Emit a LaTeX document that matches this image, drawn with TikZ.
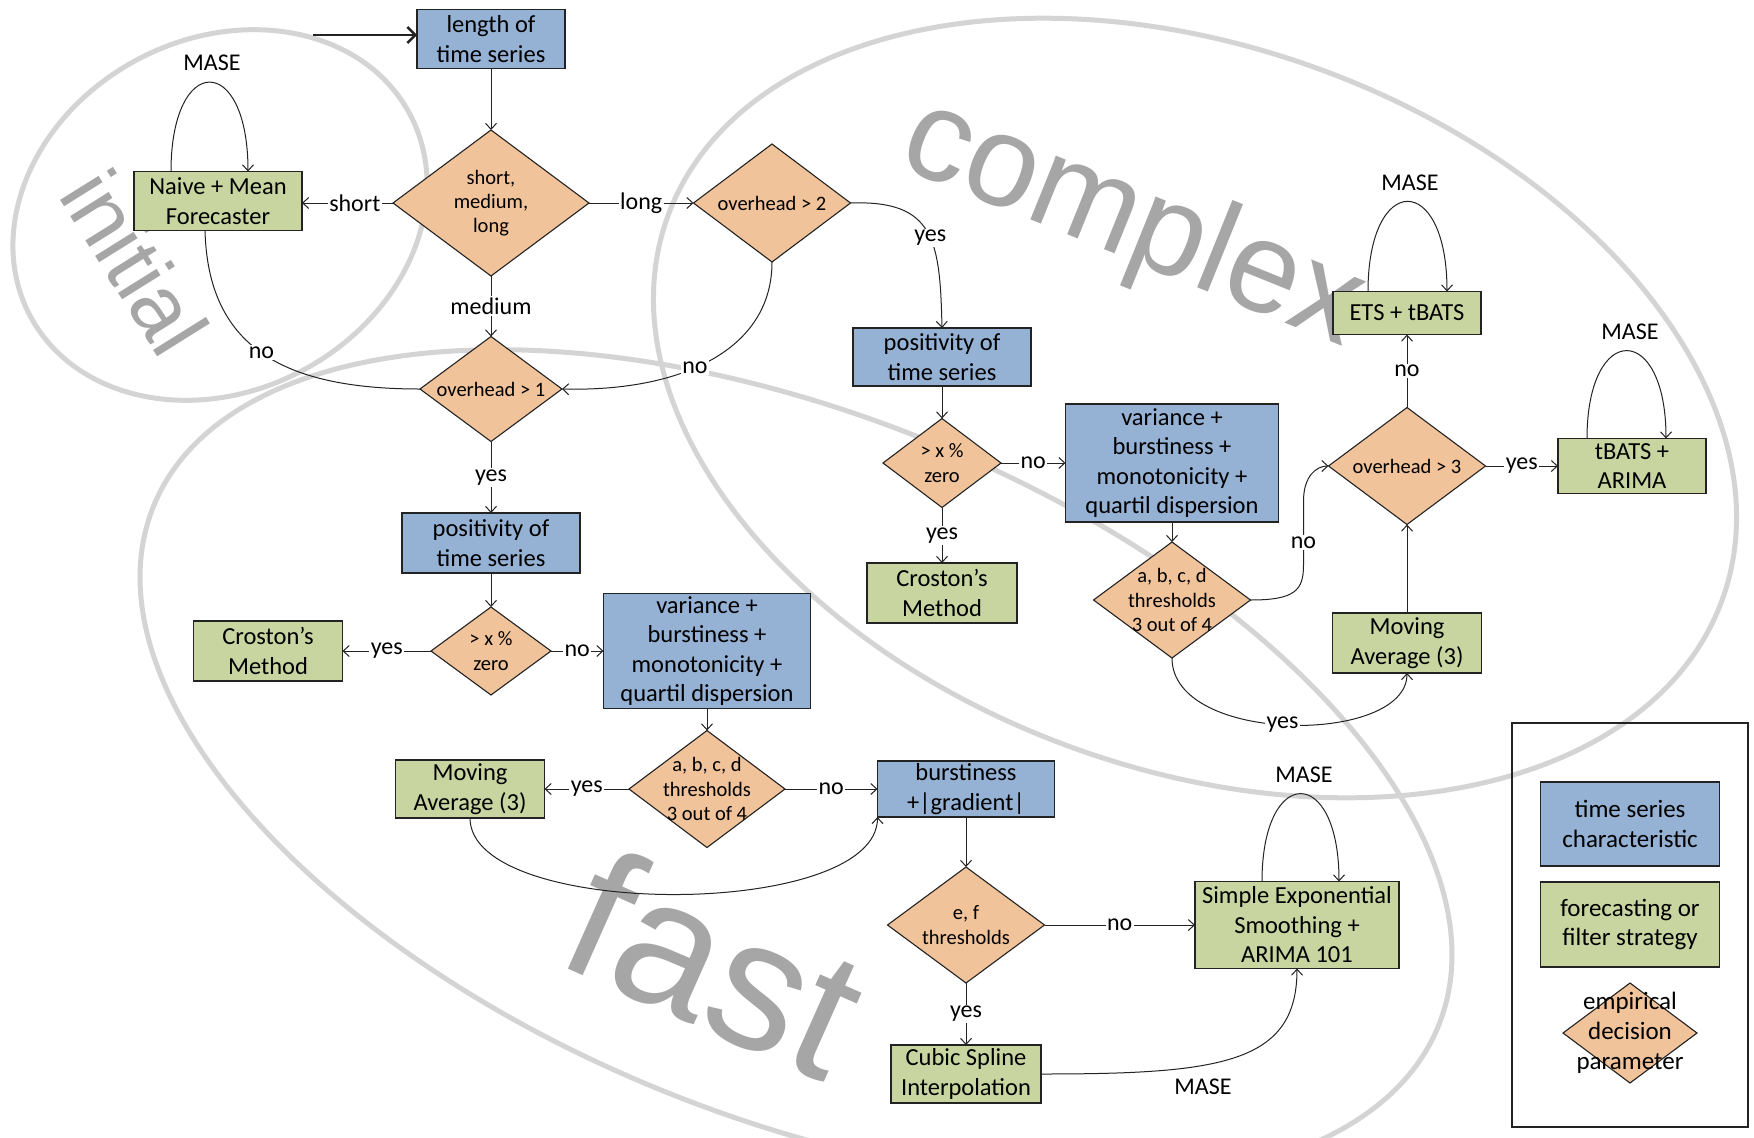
\documentclass[tikz,border=0pt]{standalone}
\usepackage{fontspec}
\setmainfont{Carlito}
\newfontfamily\markfont{Liberation Sans}
\usetikzlibrary{shapes.geometric,arrows.meta,calc}

\definecolor{tsblue}{RGB}{149,177,212}
\definecolor{fcgreen}{RGB}{200,213,160}
\definecolor{dporange}{RGB}{241,195,155}
\definecolor{ringgray}{RGB}{212,212,212}
\definecolor{markgray}{RGB}{166,166,166}
\definecolor{ink}{RGB}{35,35,35}

\tikzset{
  every node/.style={inner sep=0pt, outer sep=0pt},
  boxbase/.style={draw=ink, line width=1.3pt, align=center,
    font=\fontsize{24.5}{29.5}\selectfont},
  tsbox/.style={boxbase, fill=tsblue},
  fcbox/.style={boxbase, fill=fcgreen},
  dp/.style={diamond, draw=ink, line width=1.1pt, fill=dporange},
  dptext/.style={align=center, font=\fontsize{20.5}{24.2}\selectfont},
  lbl/.style={fill=white, inner sep=1.5pt, font=\fontsize{24}{28}\selectfont},
  looplbl/.style={font=\fontsize{24}{28}\selectfont},
  link/.style={draw=ink, line width=1pt},
  conn/.style={link, -{Straight Barb[length=6pt,width=11pt]}},
  ring/.style={draw=ringgray, line width=5pt},
  wmark/.style={text=markgray, font=\markfont\fontsize{#1}{#1}\selectfont},
}

\begin{document}
\begin{tikzpicture}[x=1pt,y=-1pt]
\clip (0,0) rectangle (1754,1138);
\fill[white] (0,0) rectangle (1754,1138);

% region outlines
\draw[ring, rotate around={28:(220,215)}] (220,215) ellipse [x radius=215, y radius=176];
\draw[ring, rotate around={-20:(1195,408)}] (1195,408) ellipse [x radius=561, y radius=361];
\draw[ring, rotate around={-22:(796,766)}] (796,766) ellipse [x radius=693, y radius=351];

% region names
\node[wmark=86, rotate=-58] (nameInit) at (135,262) {initial};
\node[wmark=130, rotate=-22] (nameComplex) at (1132,225) {complex};
\node[wmark=184, rotate=-24] (nameFast) at (716,963) {fast};

% entry and length decision
\node[tsbox, minimum width=148pt, minimum height=59pt] (len) at (491,39) {length of\\time series};
\node[dp, minimum width=196pt, minimum height=146pt] (d1) at (491,203) {};
\node[dptext] (d1t) at (d1) {short,\\medium,\\long};
\node[fcbox, minimum width=168pt, minimum height=59pt] (naive) at (218,201) {Naive + Mean\\Forecaster};
\node[dp, minimum width=142pt, minimum height=105pt] (oh1) at (491,389) {};
\node[dptext] (oh1t) at (oh1) {overhead > 1};
\node[dp, minimum width=157pt, minimum height=118pt] (oh2) at (772,203) {};
\node[dptext] (oh2t) at (oh2) {overhead > 2};

% complex branch
\node[tsbox, minimum width=178pt, minimum height=58pt] (posC) at (942,357) {positivity of\\time series};
\node[dp, minimum width=118pt, minimum height=89pt] (zeroC) at (942,463) {};
\node[dptext] (zeroCt) at (zeroC) {> x \%\\zero};
\node[tsbox, minimum width=213pt, minimum height=118pt] (varC) at (1172,463) {variance +\\burstiness +\\monotonicity +\\quartil dispersion};
\node[fcbox, minimum width=150pt, minimum height=60pt] (croC) at (942,593) {Croston’s\\Method};
\node[dp, minimum width=157pt, minimum height=116pt] (abcdC) at (1172,600) {};
\node[dptext] (abcdCt) at (abcdC) {a, b, c, d\\thresholds\\3 out of 4};
\node[dp, minimum width=157pt, minimum height=117pt] (oh3) at (1407,466) {};
\node[dptext] (oh3t) at (oh3) {overhead > 3};
\node[fcbox, minimum width=149pt, minimum height=60pt] (maC) at (1407,643) {Moving\\Average (3)};
\node[fcbox, minimum width=148pt, minimum height=43pt] (ets) at (1407,313) {ETS + tBATS};
\node[fcbox, minimum width=148pt, minimum height=55pt] (tbats) at (1632,466) {tBATS +\\ARIMA};

% fast branch
\node[tsbox, minimum width=178pt, minimum height=60pt] (posF) at (491,543) {positivity of\\time series};
\node[dp, minimum width=120pt, minimum height=88pt] (zeroF) at (491,651) {};
\node[dptext] (zeroFt) at (zeroF) {> x \%\\zero};
\node[fcbox, minimum width=149pt, minimum height=60pt] (croF) at (268,651) {Croston’s\\Method};
\node[tsbox, minimum width=207pt, minimum height=115pt] (varF) at (707,651) {variance +\\burstiness +\\monotonicity +\\quartil dispersion};
\node[dp, minimum width=156pt, minimum height=117pt] (abcdF) at (707,789) {};
\node[dptext] (abcdFt) at (abcdF) {a, b, c, d\\thresholds\\3 out of 4};
\node[fcbox, minimum width=149pt, minimum height=58pt] (maF) at (470,789) {Moving\\Average (3)};
\node[tsbox, minimum width=177pt, minimum height=56pt] (burst) at (966,789) {burstiness\\+|gradient|};
\node[dp, minimum width=157pt, minimum height=116pt] (ef) at (966,925) {};
\node[dptext] (eft) at (ef) {e, f\\thresholds};
\node[fcbox, minimum width=150pt, minimum height=58pt] (cubic) at (966,1074) {Cubic Spline\\Interpolation};
\node[fcbox, minimum width=204pt, minimum height=87pt] (ses) at (1297,925) {Simple Exponential\\Smoothing +\\ARIMA 101};

% legend
\node[draw=ink, line width=1.3pt, minimum width=236pt, minimum height=404pt] (legend) at (1630,925) {};
\node[tsbox, minimum width=179pt, minimum height=84pt, font=\fontsize{25}{29.5}\selectfont] (keyTs) at (1630,824) {time series\\characteristic};
\node[fcbox, minimum width=179pt, minimum height=85pt, font=\fontsize{25}{29.5}\selectfont] (keyFc) at (1630,924.5) {forecasting or\\filter strategy};
\node[dp, minimum width=134pt, minimum height=100pt] (keyDp) at (1630,1033) {};
\node[align=center, font=\fontsize{25}{30}\selectfont] (keyDpt) at (keyDp) {empirical\\decision\\parameter};

% connectors: start
\coordinate (start) at (313,35);
\draw[link, line width=2.4pt, -{Straight Barb[length=8pt,width=16pt]}] (start) -- (start -| len.west);
\draw[conn] (len.south) -- (d1.north);
\draw[conn] (d1.west) -- node[lbl, pos=0.42] (lShort) {short} (d1.west -| naive.east);
\draw[conn] (d1.south) -- node[lbl] (lMedium) {medium} (oh1.north);
\draw[conn] (d1.east) -- node[lbl] (lLong) {long} (d1.east -| oh2.west);
\draw[conn] (oh2.east) .. controls +(84,-3) and +(-2,-88) .. node[lbl, pos=0.55] (lYesA) {yes} (posC.north);
\draw[conn] (oh2.south) .. controls +(0,88) and +(119,3) .. node[lbl, pos=0.57] (lNoA) {no} (oh1.east);
\draw[link] (oh1.west) .. controls +(-139,0) and +(3,115) .. node[lbl] (lNoB) {no} ([xshift=-13pt]naive.south);

% connectors: fast branch
\draw[conn] (oh1.south) -- node[lbl] (lYesB) {yes} (posF.north);
\draw[conn] (posF.south) -- (zeroF.north);
\draw[conn] (zeroF.west) -- node[lbl] (lYesC) {yes} (zeroF.west -| croF.east);
\draw[conn] (zeroF.east) -- node[lbl] (lNoC) {no} (zeroF.east -| varF.west);
\draw[conn] (varF.south) -- (abcdF.north);
\draw[conn] (abcdF.west) -- node[lbl] (lYesD) {yes} (abcdF.west -| maF.east);
\draw[conn] (abcdF.east) -- node[lbl] (lNoD) {no} (abcdF.east -| burst.west);
\draw[conn] (maF.south) .. controls +(0,102) and +(0,103) .. (burst.south west);
\draw[conn] (burst.south) -- (ef.north);
\draw[conn] (ef.east) -- node[lbl] (lNoE) {no} (ef.east -| ses.west);
\draw[conn] (ef.south) -- node[lbl] (lYesE) {yes} (cubic.north);
\draw[conn] (cubic.east) .. controls +(180,0) and +(0,95) .. (ses.south);
\node[looplbl] (lMaseE) at (1203,1087) {MASE};

% connectors: complex branch
\draw[conn] (posC.south) -- (zeroC.north);
\draw[conn] (zeroC.east) -- node[lbl] (lNoF) {no} (zeroC.east -| varC.west);
\draw[conn] (zeroC.south) -- node[lbl] (lYesF) {yes} (croC.north);
\draw[conn] (varC.south) -- (abcdC.north);
\draw[conn] (abcdC.south) .. controls +(0,87) and +(0,72) .. node[lbl, pos=0.48] (lYesG) {yes} (maC.south);
\draw[conn] (abcdC.east) .. controls +(45,0) and +(0,25) .. ($(abcdC.east)+(53,-35)$)
  -- node[lbl, pos=0.35] (lNoG) {no} ($(oh3.west)+(-25,35)$)
  .. controls +(0,-25) and +(-12,0) .. (oh3.west);
\draw[conn] (maC.north) -- (oh3.south);
\draw[conn] (oh3.north) -- node[lbl] (lNoH) {no} (ets.south);
\draw[conn] (oh3.east) -- node[lbl] (lYesH) {yes} (oh3.east -| tbats.west);

% MASE self loops
\draw[conn] ([xshift=-47pt]naive.north) .. controls +(0,-119) and +(0,-119) .. ([xshift=30pt]naive.north);
\node[looplbl] (lMaseA) at (212,63) {MASE};
\draw[conn] ([xshift=-39pt]ets.north) .. controls +(0,-120) and +(0,-120) .. ([xshift=40pt]ets.north);
\node[looplbl] (lMaseB) at (1410,183) {MASE};
\draw[conn] ([xshift=-45pt]tbats.north) .. controls +(0,-117) and +(0,-117) .. ([xshift=34pt]tbats.north);
\node[looplbl] (lMaseC) at (1630,332) {MASE};
\draw[conn] ([xshift=-35pt]ses.north) .. controls +(0,-117) and +(0,-117) .. ([xshift=42pt]ses.north);
\node[looplbl] (lMaseD) at (1304,775) {MASE};
\end{tikzpicture}
\end{document}
